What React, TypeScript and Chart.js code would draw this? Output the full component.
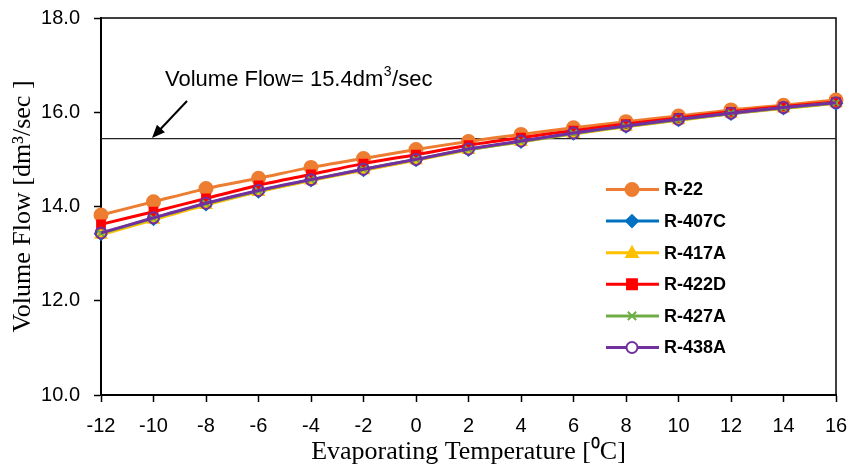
import React, { useEffect, useRef } from "react";
import { Chart, registerables } from "chart.js";

Chart.register(...registerables);

const temps = [-12, -10, -8, -6, -4, -2, 0, 2, 4, 6, 8, 10, 12, 14, 16];
const r22 = [13.82, 14.1, 14.38, 14.6, 14.83, 15.02, 15.21, 15.38, 15.53, 15.67, 15.8, 15.92, 16.05, 16.15, 16.26];
const r407c = [13.42, 13.74, 14.05, 14.32, 14.56, 14.78, 14.99, 15.21, 15.38, 15.55, 15.7, 15.84, 15.97, 16.09, 16.19];
const r417a = [13.4, 13.72, 14.03, 14.31, 14.55, 14.77, 14.98, 15.2, 15.37, 15.54, 15.69, 15.83, 15.97, 16.08, 16.19];
const r422d = [13.62, 13.89, 14.17, 14.45, 14.68, 14.91, 15.1, 15.3, 15.46, 15.61, 15.75, 15.88, 16.01, 16.12, 16.22];
const r427a = [13.43, 13.75, 14.06, 14.33, 14.57, 14.79, 15.0, 15.21, 15.38, 15.55, 15.7, 15.84, 15.98, 16.09, 16.2];
const r438a = [13.44, 13.76, 14.07, 14.34, 14.57, 14.79, 15.0, 15.22, 15.39, 15.56, 15.71, 15.85, 15.98, 16.1, 16.2];
const refFlow = 15.44;
const refRange = [-12, 16];
const yTicks = [10, 12, 14, 16, 18];

const seriesDefs = [
  { label: "R-22", data: r22, color: "#ED7D31", style: "circle", radius: 6.5, fill: "#ED7D31" },
  { label: "R-407C", data: r407c, color: "#0070C0", style: "rectRot", radius: 6, fill: "#0070C0" },
  { label: "R-417A", data: r417a, color: "#FFC000", style: "triangle", radius: 6, fill: "#FFC000" },
  { label: "R-422D", data: r422d, color: "#FF0000", style: "rect", radius: 5.5, fill: "#FF0000" },
  { label: "R-427A", data: r427a, color: "#70AD47", style: "crossRot", radius: 5.5, fill: "#70AD47" },
  { label: "R-438A", data: r438a, color: "#7030A0", style: "circle", radius: 5.5, fill: "rgba(0,0,0,0)" },
];

function drawMarker(ctx: CanvasRenderingContext2D, style: string, r: number, x: number, y: number, fill: string, stroke: string) {
  ctx.save();
  ctx.beginPath();
  ctx.fillStyle = fill;
  ctx.strokeStyle = stroke;
  ctx.lineWidth = 2;
  if (style === "circle") {
    ctx.arc(x, y, r, 0, Math.PI * 2);
    ctx.fill();
    ctx.stroke();
  } else if (style === "rectRot") {
    ctx.moveTo(x, y - r);
    ctx.lineTo(x + r, y);
    ctx.lineTo(x, y + r);
    ctx.lineTo(x - r, y);
    ctx.closePath();
    ctx.fill();
    ctx.stroke();
  } else if (style === "triangle") {
    ctx.moveTo(x, y - r);
    ctx.lineTo(x + r * 0.95, y + r * 0.7);
    ctx.lineTo(x - r * 0.95, y + r * 0.7);
    ctx.closePath();
    ctx.fill();
    ctx.stroke();
  } else if (style === "rect") {
    const s = r * 0.9;
    ctx.rect(x - s, y - s, 2 * s, 2 * s);
    ctx.fill();
    ctx.stroke();
  } else if (style === "crossRot") {
    const s = r * 0.75;
    ctx.moveTo(x - s, y - s);
    ctx.lineTo(x + s, y + s);
    ctx.moveTo(x + s, y - s);
    ctx.lineTo(x - s, y + s);
    ctx.stroke();
  }
  ctx.restore();
}

const overlayPlugin = {
  id: "overlay",
  beforeDatasetsDraw(chart: any) {
    const { ctx, chartArea } = chart;
    ctx.save();
    ctx.strokeStyle = "#000";
    ctx.lineWidth = 1.5;
    ctx.strokeRect(chartArea.left, chartArea.top, chartArea.right - chartArea.left, chartArea.bottom - chartArea.top);
    ctx.restore();
  },
  afterDraw(chart: any) {
    const { ctx } = chart;
    ctx.save();
    ctx.fillStyle = "#000";
    ctx.textBaseline = "alphabetic";
    ctx.textAlign = "left";
    const mainFont = "22px 'Liberation Sans', Arial, sans-serif";
    const supFont = "14px 'Liberation Sans', Arial, sans-serif";
    let x = 165;
    const y = 86;
    ctx.font = mainFont;
    const p1 = "Volume Flow= 15.4dm";
    ctx.fillText(p1, x, y);
    x += ctx.measureText(p1).width;
    ctx.font = supFont;
    ctx.fillText("3", x + 0.5, y - 10);
    x += ctx.measureText("3").width + 1;
    ctx.font = mainFont;
    ctx.fillText("/sec", x, y);
    // arrow
    const sx = 187, sy = 101, ex = 152, ey = 138;
    ctx.strokeStyle = "#000";
    ctx.lineWidth = 2;
    ctx.beginPath();
    ctx.moveTo(sx, sy);
    const ang = Math.atan2(ey - sy, ex - sx);
    ctx.lineTo(ex - Math.cos(ang) * 8, ey - Math.sin(ang) * 8);
    ctx.stroke();
    const hl = 13, hw = 5.5;
    ctx.beginPath();
    ctx.moveTo(ex, ey);
    ctx.lineTo(ex - Math.cos(ang) * hl + Math.sin(ang) * hw, ey - Math.sin(ang) * hl - Math.cos(ang) * hw);
    ctx.lineTo(ex - Math.cos(ang) * hl - Math.sin(ang) * hw, ey - Math.sin(ang) * hl + Math.cos(ang) * hw);
    ctx.closePath();
    ctx.fillStyle = "#000";
    ctx.fill();
    // legend
    const lx0 = 606, lx1 = 659, mx = 632, tx = 664;
    seriesDefs.forEach((s, i) => {
      const ly = 189.5 + i * 31.6;
      ctx.strokeStyle = s.color;
      ctx.lineWidth = 3;
      ctx.beginPath();
      ctx.moveTo(lx0, ly);
      ctx.lineTo(lx1, ly);
      ctx.stroke();
      const fill = s.fill === "rgba(0,0,0,0)" ? "#fff" : s.fill;
      drawMarker(ctx, s.style, s.radius, mx, ly, fill, s.color);
      ctx.fillStyle = "#000";
      ctx.font = "bold 18px 'Liberation Sans', Arial, sans-serif";
      ctx.textBaseline = "middle";
      ctx.fillText(s.label, tx, ly + 1);
    });
    ctx.restore();
  },
};

export default function App() {
  const ref = useRef<HTMLCanvasElement | null>(null);
  useEffect(() => {
    document.body.style.margin = "0";
    const canvas = ref.current;
    if (!canvas) return;
    const datasets: any[] = seriesDefs.map((s, i) => ({
      label: s.label,
      data: temps.map((t, j) => ({ x: t, y: s.data[j] })),
      borderColor: s.color,
      backgroundColor: s.fill,
      borderWidth: 3,
      pointStyle: s.style,
      pointRadius: s.radius,
      pointBorderWidth: 2,
      pointBorderColor: s.color,
      pointBackgroundColor: s.fill,
      tension: 0.3,
      order: seriesDefs.length - i,
    }));
    datasets.push({
      label: "ref",
      data: refRange.map((t) => ({ x: t, y: refFlow })),
      borderColor: "#222",
      borderWidth: 1.2,
      pointRadius: 0,
      tension: 0,
      order: 10,
    });
    const chart = new Chart(canvas, {
      type: "line",
      data: { datasets },
      options: {
        animation: false,
        responsive: false,
        clip: false as any,
        layout: { padding: { top: 18, right: 15, left: 0, bottom: 0 } },
        plugins: { legend: { display: false }, tooltip: { enabled: false } },
        scales: {
          x: {
            type: "linear",
            min: -12,
            max: 16,
            afterFit: (scale: any) => {
              scale.height = 73;
              scale.paddingLeft = 0;
              scale.paddingRight = 0;
            },
            ticks: {
              stepSize: 2,
              color: "#000",
              padding: 12,
              maxRotation: 0,
              font: { family: "'Liberation Sans', Arial, sans-serif", size: 20 },
            },
            grid: { display: true, drawOnChartArea: false, tickLength: 7, color: "#000", tickWidth: 1.5 },
            border: { display: true, color: "#000", width: 2 },
            title: {
              display: true,
              text: "Evaporating Temperature [\u2070C]",
              color: "#000",
              padding: { top: 0, bottom: 0 },
              font: { family: "'Liberation Serif', 'Times New Roman', serif", size: 26 },
            },
          },
          y: {
            min: 10,
            max: 18,
            afterFit: (scale: any) => {
              scale.width = 101;
              scale.paddingTop = 0;
              scale.paddingBottom = 0;
            },
            afterBuildTicks: (scale: any) => {
              scale.ticks = yTicks.map((v) => ({ value: v }));
            },
            ticks: {
              color: "#000",
              padding: 14,
              callback: (v: any) => Number(v).toFixed(1),
              font: { family: "'Liberation Sans', Arial, sans-serif", size: 20 },
            },
            grid: { display: true, drawOnChartArea: false, tickLength: 7, color: "#000", tickWidth: 1.5 },
            border: { display: true, color: "#000", width: 2 },
            title: {
              display: true,
              text: "Volume Flow [dm\u00B3/sec ]",
              color: "#000",
              padding: { top: 8, bottom: 0 },
              font: { family: "'Liberation Serif', 'Times New Roman', serif", size: 26 },
            },
          },
        },
      },
      plugins: [overlayPlugin],
    });
    return () => chart.destroy();
  }, []);
  return (
    <div style={{ width: 851, height: 468 }}>
      <canvas ref={ref} width={851} height={468} style={{ width: 851, height: 468, display: "block" }} />
    </div>
  );
}
